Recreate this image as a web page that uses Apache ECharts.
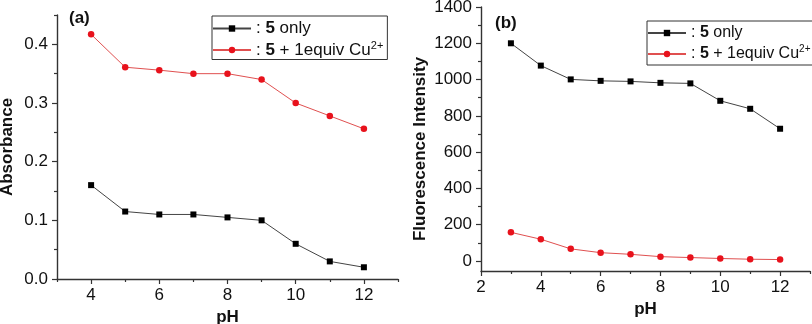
<!DOCTYPE html>
<html>
<head>
<meta charset="utf-8">
<script src="https://cdn.jsdelivr.net/npm/echarts@6/dist/echarts.min.js"></script>
<style>
html,body{margin:0;padding:0;background:#fff;}
#c{width:812px;height:324px;}
</style>
</head>
<body>
<div id="c"></div>
<script>
// ---- data ----
var phA = [4, 5, 6, 7, 8, 9, 10, 11, 12];
var absOnly = [0.160, 0.115, 0.110, 0.110, 0.105, 0.100, 0.060, 0.030, 0.020];
var absCu = [0.417, 0.361, 0.356, 0.350, 0.350, 0.340, 0.300, 0.278, 0.256];

var phB = [3, 4, 5, 6, 7, 8, 9, 10, 11, 12];
var fluOnly = [1200, 1077, 1001, 993, 990, 982, 979, 883, 839, 729];
var fluCu = [158, 120, 67, 46, 37, 24, 19, 14, 10, 8];

var seriesNames = ['5 only', '5 + 1equiv Cu2+'];
var xTicksA = [4, 6, 8, 10, 12];
var yTicksA = [0, 0.1, 0.2, 0.3, 0.4];
var xTicksB = [2, 4, 6, 8, 10, 12];
var yTicksB = [0, 200, 400, 600, 800, 1000, 1200, 1400];

// ---- helpers ----
function pairs(xs, ys) { return xs.map(function (x, i) { return [x, ys[i]]; }); }
function minors(ticks, lo, hi) {
  var step = ticks[1] - ticks[0], out = [];
  var all = [ticks[0] - step / 2].concat(ticks.map(function (t) { return t + step / 2; }));
  all.forEach(function (v) { v = Math.round(v * 1000) / 1000; if (v >= lo - 1e-9 && v <= hi + 1e-9) out.push(v); });
  return out;
}

var AX = '#333';
var TXT = '#111';
var FONT = 'Liberation Sans, Arial, sans-serif';

var ranges = {
  A: { x: [3, 13], y: [0, 0.45] },
  B: { x: [2, 13], y: [-55, 1400] }
};

function mainAxis(kind, grid, rng, ticks, fmt, name, nameGap, extra) {
  var a = {
    type: 'value', gridIndex: grid, min: rng[0], max: rng[1],
    position: kind === 'x' ? 'bottom' : 'left',
    name: name, nameLocation: 'middle', nameGap: nameGap,
    nameTextStyle: { fontFamily: FONT, fontSize: 17, fontWeight: 'bold', color: TXT },
    axisLine: { show: true, onZero: false, lineStyle: { color: AX, width: 1.4 } },
    axisTick: { show: true, inside: false, length: 5, customValues: ticks, lineStyle: { color: AX, width: 1.2 } },
    axisLabel: { show: true, customValues: ticks, formatter: fmt, fontFamily: FONT, fontSize: 17, color: TXT, margin: kind === 'x' ? 8 : 9 },
    splitLine: { show: false }
  };
  if (extra) Object.keys(extra).forEach(function (k) { a[k] = extra[k]; });
  return a;
}
function minorAxis(kind, grid, rng, ticks) {
  return {
    type: 'value', gridIndex: grid, min: rng[0], max: rng[1],
    position: kind === 'x' ? 'bottom' : 'left',
    axisLine: { show: false, onZero: false },
    axisTick: { show: true, inside: false, length: 3, customValues: minors(ticks, rng[0], rng[1]), lineStyle: { color: AX, width: 1.2 } },
    axisLabel: { show: false },
    splitLine: { show: false }
  };
}

function legendFmt(name) {
  if (name === seriesNames[0]) return '{n|: }{b|5}{n| only}';
  return '{n|: }{b|5}{n| + 1equiv Cu}{s|2+}';
}
function legendRich(fs) {
  return {
    n: { fontFamily: FONT, fontSize: fs, color: TXT, lineHeight: 20 },
    b: { fontFamily: FONT, fontSize: fs, fontWeight: 'bold', color: TXT, lineHeight: 20 },
    s: { fontFamily: FONT, fontSize: Math.round(fs * 0.62), color: TXT, lineHeight: 20, verticalAlign: 'top' }
  };
}

function lineSeries(name, xi, yi, data, isCu) {
  return {
    name: name, type: 'line', xAxisIndex: xi, yAxisIndex: yi, data: data,
    symbol: isCu ? 'circle' : 'rect', symbolSize: isCu ? 6.5 : 6,
    itemStyle: { color: isCu ? '#e8121c' : '#000' },
    lineStyle: { color: isCu ? '#e05050' : '#444', width: 1 },
    emphasis: { disabled: true }, animation: false
  };
}

var chart = echarts.init(document.getElementById('c'), null, { renderer: 'canvas' });
chart.setOption({
  backgroundColor: '#fff',
  animation: false,
  title: [
    { text: '(a)', left: 64, top: 5, textStyle: { fontFamily: FONT, fontSize: 17, fontWeight: 'bold', color: TXT } },
    { text: '(b)', left: 490, top: 10, textStyle: { fontFamily: FONT, fontSize: 17, fontWeight: 'bold', color: TXT } }
  ],
  grid: [
    { left: 57, right: 414, top: 15, bottom: 45, containLabel: false, outerBoundsMode: 'none' },
    { left: 481, right: 2, top: 7, bottom: 53, containLabel: false, outerBoundsMode: 'none' }
  ],
  xAxis: [
    mainAxis('x', 0, ranges.A.x, xTicksA, function (v) { return String(v); }, 'pH', 28),
    minorAxis('x', 0, ranges.A.x, xTicksA),
    mainAxis('x', 1, ranges.B.x, xTicksB, function (v) { return String(v); }, 'pH', 30),
    minorAxis('x', 1, ranges.B.x, xTicksB)
  ],
  yAxis: [
    mainAxis('y', 0, ranges.A.y, yTicksA, function (v) { return v.toFixed(1); }, 'Absorbance', 41),
    minorAxis('y', 0, ranges.A.y, yTicksA),
    mainAxis('y', 1, ranges.B.y, yTicksB, function (v) { return String(v); }, 'Fluorescence Intensity', 52,
      { nameTextStyle: { fontFamily: FONT, fontSize: 17, fontWeight: 'bold', color: TXT, padding: [0, 20, 0, 0] } }),
    minorAxis('y', 1, ranges.B.y, yTicksB)
  ],
  legend: [
    {
      orient: 'vertical', left: 212, top: 16, width: 169,
      padding: [4, 4, 1, 0], itemGap: 3, itemWidth: 38, itemHeight: 8,
      borderColor: '#333', borderWidth: 1, selectedMode: false,
      data: seriesNames, formatter: legendFmt,
      textStyle: { rich: legendRich(17) }
    },
    {
      orient: 'vertical', left: 647, top: 21,
      padding: [4, 4, 3, 0], itemGap: 3, itemWidth: 38, itemHeight: 8,
      borderColor: '#333', borderWidth: 1, selectedMode: false,
      data: seriesNames, formatter: legendFmt,
      textStyle: { rich: legendRich(16) }
    }
  ],
  series: [
    lineSeries(seriesNames[0], 0, 0, pairs(phA, absOnly), false),
    lineSeries(seriesNames[1], 0, 0, pairs(phA, absCu), true),
    lineSeries(seriesNames[0], 2, 2, pairs(phB, fluOnly), false),
    lineSeries(seriesNames[1], 2, 2, pairs(phB, fluCu), true)
  ]
});
</script>
</body>
</html>
